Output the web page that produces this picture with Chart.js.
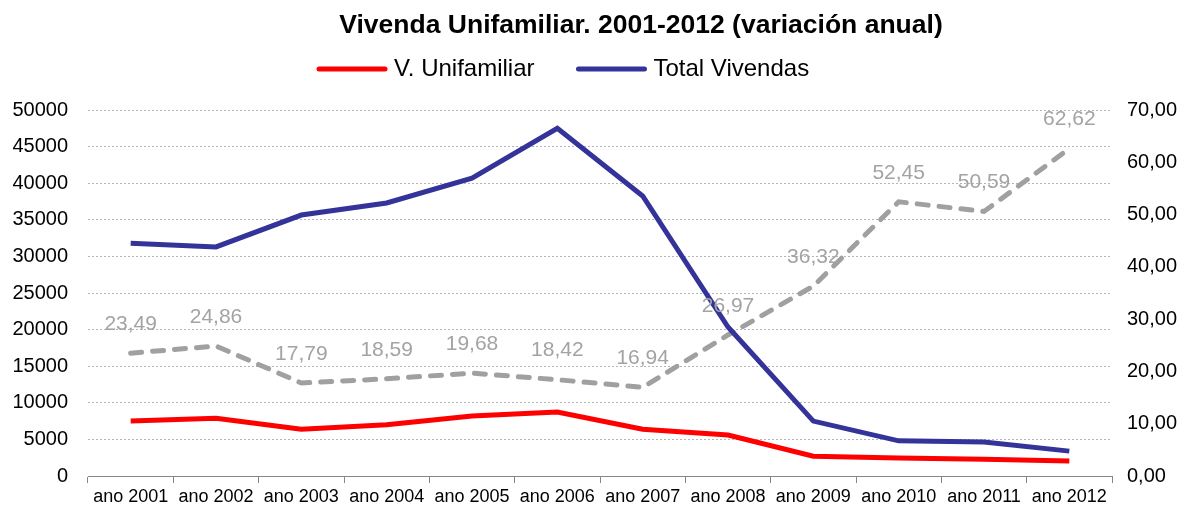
<!DOCTYPE html>
<html>
<head>
<meta charset="utf-8">
<script src="https://cdn.jsdelivr.net/npm/chart.js@4.4.1/dist/chart.umd.min.js"></script>
<style>
  html, body { margin: 0; padding: 0; background: #fff; }
  #wrap { width: 1192px; height: 508px; position: relative; }
</style>
</head>
<body>
<div id="wrap"><canvas id="chart"></canvas></div>
<script>
const chartTitle = 'Vivenda Unifamiliar. 2001-2012 (variación anual)';
const years = ['ano 2001', 'ano 2002', 'ano 2003', 'ano 2004', 'ano 2005', 'ano 2006',
  'ano 2007', 'ano 2008', 'ano 2009', 'ano 2010', 'ano 2011', 'ano 2012'];
const unifamiliar = [7500, 7900, 6400, 7000, 8200, 8750, 6400, 5600, 2700, 2450, 2300, 2050];
const totalVivendas = [31800, 31300, 35650, 37300, 40700, 47500, 38250, 20350, 7500, 4800, 4650, 3400];
const variacion = [23.49, 24.86, 17.79, 18.59, 19.68, 18.42, 16.94, 26.97, 36.32, 52.45, 50.59, 62.62];

const FONT = '"Liberation Sans", Arial, sans-serif';
const fmt = (v) => v.toFixed(2).replace('.', ',');

// title + legend drawn by hand so they can sit off-centre like the original
const header = {
  id: 'header',
  afterDraw(chart) {
    const ctx = chart.ctx;
    ctx.save();
    ctx.fillStyle = '#000';
    ctx.font = 'bold 26.5px ' + FONT;
    ctx.textAlign = 'center';
    ctx.textBaseline = 'alphabetic';
    ctx.fillText(chartTitle, 641, 33);

    ctx.font = '24px ' + FONT;
    ctx.textAlign = 'left';
    ctx.textBaseline = 'middle';
    ctx.lineWidth = 5;
    ctx.lineCap = 'round';
    let x = 319;
    chart.data.datasets.slice(0, 2).forEach((ds) => {
      ctx.strokeStyle = ds.borderColor;
      ctx.beginPath();
      ctx.moveTo(x, 69);
      ctx.lineTo(x + 66, 69);
      ctx.stroke();
      ctx.fillStyle = '#000';
      ctx.fillText(ds.label, x + 75, 69);
      x += 75 + ctx.measureText(ds.label).width + 44;
    });
    ctx.restore();
  }
};

// grey value labels above the dashed line
const valueLabels = {
  id: 'valueLabels',
  afterDatasetsDraw(chart) {
    const meta = chart.getDatasetMeta(2);
    const ctx = chart.ctx;
    ctx.save();
    ctx.font = '21px ' + FONT;
    ctx.fillStyle = '#a3a3a3';
    ctx.textAlign = 'center';
    ctx.textBaseline = 'middle';
    meta.data.forEach((pt, i) => {
      ctx.fillText(fmt(variacion[i]), pt.x, pt.y - 29);
    });
    ctx.restore();
  }
};

const ctx = document.getElementById('chart').getContext('2d');
new Chart(ctx, {
  type: 'line',
  data: {
    labels: years,
    datasets: [
      {
        label: 'V. Unifamiliar',
        data: unifamiliar,
        borderColor: '#ff0000',
        borderWidth: 5,
        pointRadius: 0,
        tension: 0,
        yAxisID: 'y',
      },
      {
        label: 'Total Vivendas',
        data: totalVivendas,
        borderColor: '#333399',
        borderWidth: 5,
        pointRadius: 0,
        tension: 0,
        yAxisID: 'y',
      },
      {
        label: 'variacion',
        data: variacion,
        borderColor: '#a0a0a0',
        borderWidth: 5,
        borderDash: [11, 11],
        borderCapStyle: 'round',
        pointRadius: 0,
        tension: 0,
        yAxisID: 'y1',
      },
    ],
  },
  options: {
    responsive: true,
    maintainAspectRatio: false,
    animation: false,
    layout: { padding: { left: 12, right: 14, top: 110, bottom: 0 } },
    scales: {
      x: {
        offset: true,
        afterFit: (s) => { s.paddingLeft = 0; s.paddingRight = 0; s.height = 32; },
        grid: {
          offset: true,
          drawOnChartArea: false,
          tickLength: 7,
          color: '#868686',
        },
        border: { color: '#868686', width: 1 },
        ticks: {
          color: '#000',
          font: { family: FONT, size: 18 },
          maxRotation: 0,
          autoSkip: false,
          padding: 3,
        },
      },
      y: {
        position: 'left',
        min: 0,
        max: 50000,
        afterFit: (s) => { s.paddingTop = 0; s.paddingBottom = 0; s.width = 76; },
        ticks: {
          stepSize: 5000,
          color: '#000',
          font: { family: FONT, size: 20 },
          padding: 20,
          callback: (v) => String(v),
        },
        grid: {
          color: '#b4b4b4',
          drawTicks: false,
        },
        border: { display: false, dash: [2, 2] },
      },
      y1: {
        position: 'right',
        min: 0,
        max: 70,
        afterFit: (s) => { s.paddingTop = 0; s.paddingBottom = 0; s.width = 66; },
        ticks: {
          stepSize: 10,
          color: '#000',
          font: { family: FONT, size: 20 },
          padding: 15,
          callback: (v) => fmt(v),
        },
        grid: { drawOnChartArea: false, drawTicks: false },
        border: { display: false },
      },
    },
    plugins: {
      title: { display: false },
      legend: { display: false },
      tooltip: { enabled: false },
    },
  },
  plugins: [header, valueLabels],
});
</script>
</body>
</html>
